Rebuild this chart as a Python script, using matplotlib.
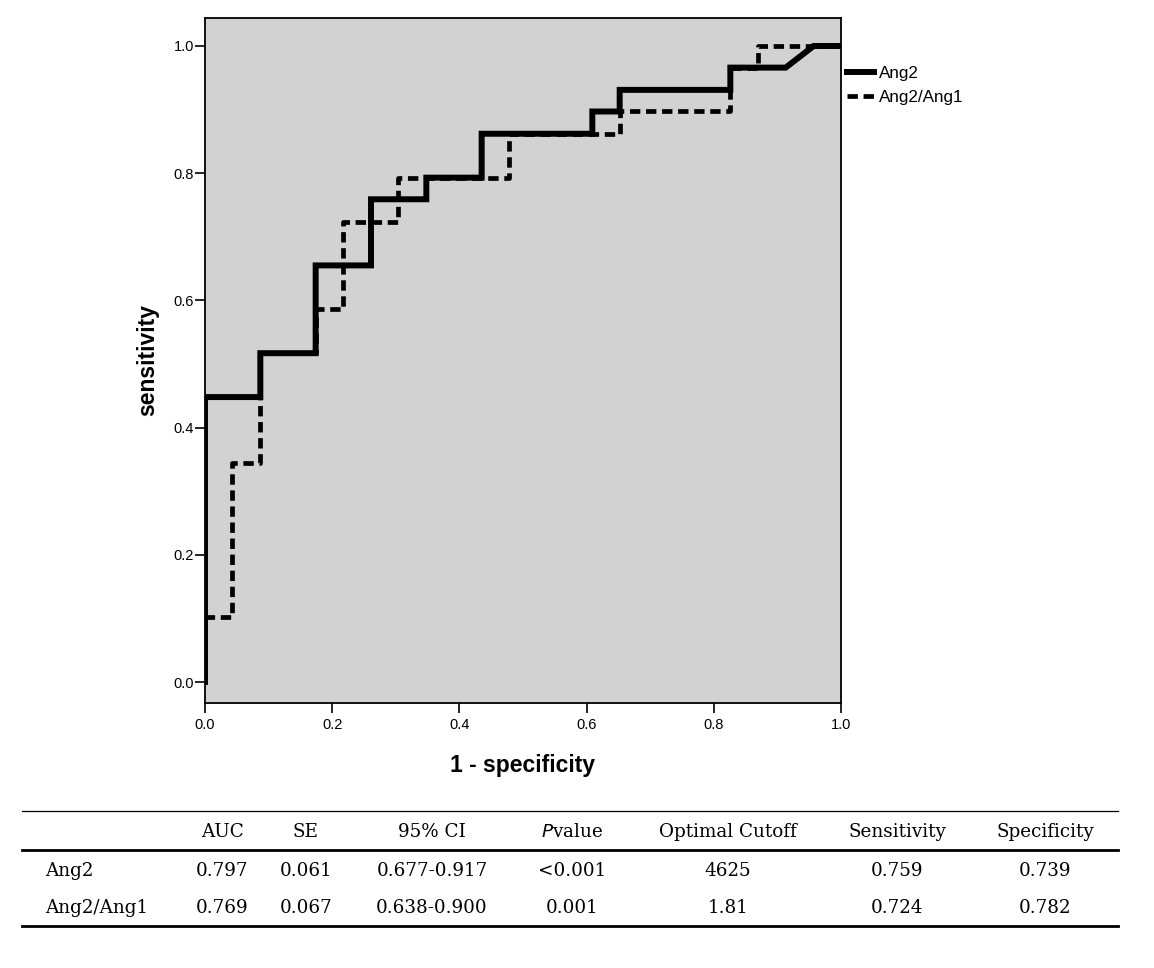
import matplotlib.pyplot as plt
from matplotlib.lines import Line2D

# ROC curve vertices (1 - specificity, sensitivity)
ang2_fpr = [0.0, 0.0, 0.087, 0.087, 0.174, 0.174, 0.261, 0.261, 0.348, 0.348,
            0.435, 0.435, 0.609, 0.609, 0.652, 0.652, 0.826, 0.826, 0.913, 0.957, 1.0]
ang2_tpr = [0.0, 0.448, 0.448, 0.517, 0.517, 0.655, 0.655, 0.759, 0.759, 0.793,
            0.793, 0.862, 0.862, 0.897, 0.897, 0.931, 0.931, 0.966, 0.966, 1.0, 1.0]

ratio_fpr = [0.0, 0.0, 0.043, 0.043, 0.087, 0.087, 0.174, 0.174, 0.217, 0.217,
             0.304, 0.304, 0.478, 0.478, 0.652, 0.652, 0.826, 0.826, 0.870, 0.870, 1.0]
ratio_tpr = [0.0, 0.103, 0.103, 0.345, 0.345, 0.517, 0.517, 0.586, 0.586, 0.724,
             0.724, 0.793, 0.793, 0.862, 0.862, 0.897, 0.897, 0.966, 0.966, 1.0, 1.0]

ticks = [0.0, 0.2, 0.4, 0.6, 0.8, 1.0]

# summary table
col_names = ["", "AUC", "SE", "95% CI", "$P$value", "Optimal Cutoff", "Sensitivity", "Specificity"]
row_ang2 = ["Ang2", "0.797", "0.061", "0.677-0.917", "<0.001", "4625", "0.759", "0.739"]
row_ratio = ["Ang2/Ang1", "0.769", "0.067", "0.638-0.900", "0.001", "1.81", "0.724", "0.782"]
col_x = [45, 222, 306, 432, 572, 728, 897, 1045]

W, H = 1154, 968
plt.rcParams['font.family'] = ['Liberation Sans', 'DejaVu Sans']

fig = plt.figure(figsize=(W / 100, H / 100), dpi=100)
ax = fig.add_axes([205 / W, 1 - 703 / H, 636 / W, 685 / H])

ylo, yhi = -0.033, 1.044

# stippled background approximated by a flat light grey
ax.set_facecolor('#d2d2d2')

ax.plot(ang2_fpr, ang2_tpr, color='black', lw=4.3, solid_joinstyle='miter',
        label='Ang2', zorder=3)
ax.plot(ratio_fpr, ratio_tpr, color='black', lw=3.4, linestyle=(0, (2.2, 1.2)),
        label='Ang2/Ang1', zorder=2)

ax.set_xlim(0, 1)
ax.set_ylim(ylo, yhi)
ax.set_xticks(ticks)
ax.set_yticks(ticks)
ax.set_xticklabels([f"{t:.1f}" for t in ticks])
ax.set_yticklabels([f"{t:.1f}" for t in ticks])
ax.tick_params(direction='out', length=7, width=1.2, labelsize=10.5)
ax.tick_params(axis='y', pad=1)
ax.tick_params(axis='x', pad=4)
for s in ax.spines.values():
    s.set_linewidth(1.3)

ax.set_xlabel('1 - specificity', fontsize=16.5, fontweight='bold')
ax.set_ylabel('sensitivity', fontsize=16.5, fontweight='bold')
ax.xaxis.set_label_coords(0.5, -0.074)
ax.yaxis.set_label_coords(-0.072, 0.5)

ax.legend(loc='upper left', bbox_to_anchor=((847 - 205) / 636, (703 - 66) / 685),
          frameon=False, fontsize=12.3, handlelength=1.6, handletextpad=0.3,
          borderaxespad=0, borderpad=0, labelspacing=0.5)

# table drawn in figure pixel coordinates
def fx(px):
    return px / W


def fy(py):
    return 1 - py / H


for y, lw in [(811, 0.9), (850, 2.0), (926, 2.0)]:
    fig.add_artist(Line2D([fx(22), fx(1118)], [fy(y), fy(y)], color='black', lw=lw))

serif = ['DejaVu Serif']
for row, y in [(col_names, 832), (row_ang2, 871), (row_ratio, 908)]:
    for i, (txt, x) in enumerate(zip(row, col_x)):
        ha = 'left' if i == 0 else 'center'
        fig.text(fx(x), fy(y), txt, ha=ha, va='center', fontsize=13.2,
                 family=serif)

fig.savefig('out.png', dpi=100)
